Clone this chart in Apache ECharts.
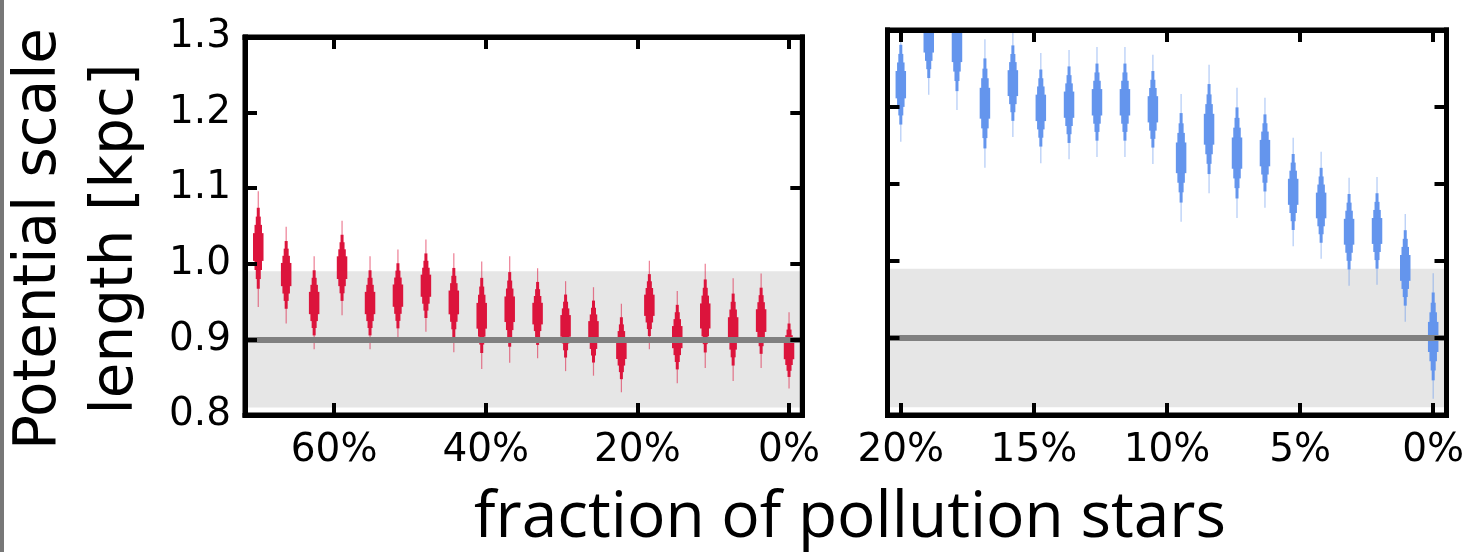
<!DOCTYPE html>
<html>
<head>
<meta charset="utf-8">
<title>Potential scale length vs pollution fraction</title>
<script src="https://cdn.jsdelivr.net/npm/echarts@6/dist/echarts.min.js"></script>
<style>
  html, body { margin: 0; padding: 0; background: #fff; }
  #chart { width: 1477px; height: 552px; }
</style>
</head>
<body>
<div id="chart"></div>
<script>
// fraction of pollution stars (%) for each violin, left panel
const leftFraction = [70, 66.32, 62.63, 58.95, 55.26, 51.58, 47.89, 44.21, 40.53, 36.84,
  33.16, 29.47, 25.79, 22.11, 18.42, 14.74, 11.05, 7.37, 3.68, 0]
const leftMedian = [1.023, 0.986, 0.948, 0.995, 0.948, 0.958, 0.971, 0.949, 0.931, 0.940,
  0.934, 0.918, 0.910, 0.888, 0.945, 0.903, 0.931, 0.913, 0.925, 0.886]
const leftLow = [0.943, 0.921, 0.887, 0.932, 0.887, 0.896, 0.910, 0.883, 0.861, 0.869,
  0.875, 0.858, 0.852, 0.830, 0.887, 0.842, 0.862, 0.845, 0.862, 0.835]
const leftHigh = [1.096, 1.049, 1.010, 1.057, 1.010, 1.019, 1.032, 1.014, 1.003, 1.010,
  0.994, 0.977, 0.969, 0.947, 1.004, 0.964, 1.000, 0.981, 0.987, 0.936]

// right panel (zoom on the low fractions)
const rightFraction = [20, 18.95, 17.89, 16.84, 15.79, 14.74, 13.68, 12.63, 11.58, 10.53,
  9.47, 8.42, 7.37, 6.32, 5.26, 4.21, 3.16, 2.11, 1.05, 0]
const rightMedian = [1.229, 1.288, 1.278, 1.205, 1.231, 1.199, 1.203, 1.206, 1.206, 1.197,
  1.134, 1.171, 1.140, 1.140, 1.090, 1.072, 1.038, 1.039, 0.991, 0.901]
const rightLow = [1.155, 1.216, 1.196, 1.121, 1.161, 1.127, 1.132, 1.135, 1.135, 1.126,
  1.051, 1.088, 1.056, 1.069, 1.019, 1.003, 0.968, 0.969, 0.921, 0.821]
const rightHigh = [1.303, 1.361, 1.360, 1.288, 1.301, 1.270, 1.274, 1.278, 1.278, 1.268,
  1.217, 1.255, 1.225, 1.212, 1.160, 1.142, 1.108, 1.109, 1.061, 0.984]

// reference value and its uncertainty band
const trueScale = 0.9
const bandRange = [0.81, 0.99]

// tick labels
const leftTicks = [0, 20, 40, 60]
const rightTicks = [0, 5, 10, 15, 20]

// stepped violin: [width in px, share of the half spread]
const violinSteps = [[3, 0.70], [5, 0.54], [7.5, 0.39], [10.5, 0.24]]

const labelFont = { fontFamily: 'DejaVu Sans', fontSize: 39, color: '#000' }

const toRows = (xs, lo, mid, hi) => xs.map((x, i) => [x, lo[i], mid[i], hi[i]])

const makeViolin = (color, pale) => (params, api) => {
  const xv = api.value(0)
  const lo = api.value(1)
  const mid = api.value(2)
  const hi = api.value(3)
  const cx = api.coord([xv, mid])[0]
  const top = api.coord([xv, hi])[1]
  const bot = api.coord([xv, lo])[1]
  const children = [{
    type: 'rect',
    shape: { x: cx - 0.6, y: top, width: 1.2, height: bot - top },
    style: { fill: pale }
  }]
  violinSteps.forEach(([w, f]) => {
    const t = api.coord([xv, mid + (hi - mid) * f])[1]
    const b = api.coord([xv, mid - (mid - lo) * f])[1]
    children.push({
      type: 'rect',
      shape: { x: cx - w / 2, y: t, width: w, height: b - t },
      style: { fill: color }
    })
  })
  return { type: 'group', children }
}

// thick black frame round each panel, ticks pointing inwards
const frameLine = () => ({ show: true, onZero: false, lineStyle: { color: '#000', width: 5, cap: 'square' } })
const tickStyle = (values) => ({
  show: true, inside: true, length: 12, customValues: values,
  lineStyle: { color: '#000', width: 4 }
})

const xAxisPair = (gridIndex, min, max, ticks) => [
  {
    type: 'value', gridIndex, position: 'bottom', inverse: true, min, max, z: 10,
    axisLine: frameLine(), axisTick: tickStyle(ticks),
    axisLabel: { ...labelFont, margin: 16, customValues: ticks, formatter: v => v + '%' },
    splitLine: { show: false }
  },
  {
    type: 'value', gridIndex, position: 'top', inverse: true, min, max, z: 10,
    axisLine: frameLine(), axisTick: tickStyle(ticks),
    axisLabel: { show: false }, splitLine: { show: false }
  }
]

const yAxisPair = (gridIndex, withLabels) => [
  {
    type: 'value', gridIndex, position: 'left', min: 0.8, max: 1.3, interval: 0.1, z: 10,
    axisLine: frameLine(),
    axisTick: { show: true, inside: true, length: 12, lineStyle: { color: '#000', width: 4 } },
    axisLabel: { show: withLabels, ...labelFont, margin: 14, formatter: v => v.toFixed(1) },
    splitLine: { show: false },
    name: withLabels ? 'Potential scale\nlength [kpc]' : '',
    nameLocation: 'middle',
    nameRotate: 90,
    nameGap: 90,
    nameTextStyle: {
      fontFamily: 'DejaVu Sans', fontSize: 58, lineHeight: 77, color: '#000',
      padding: [0, 26, 0, 0]
    }
  },
  {
    type: 'value', gridIndex, position: 'right', min: 0.8, max: 1.3, interval: 0.1, z: 10,
    axisLine: frameLine(),
    axisTick: { show: true, inside: true, length: 12, lineStyle: { color: '#000', width: 4 } },
    axisLabel: { show: false }, splitLine: { show: false }
  }
]

const referenceSeries = (xi, yi) => [
  {
    type: 'line', xAxisIndex: xi, yAxisIndex: yi, data: [], z: 1, silent: true,
    markArea: {
      silent: true,
      itemStyle: { color: '#e6e6e6' },
      data: [[{ yAxis: bandRange[0] }, { yAxis: bandRange[1] }]]
    }
  },
  {
    type: 'line', xAxisIndex: xi, yAxisIndex: yi, data: [], z: 2, silent: true,
    markLine: {
      silent: true, symbol: 'none', label: { show: false },
      lineStyle: { color: '#808080', width: 6, type: 'solid' },
      data: [{ yAxis: trueScale }]
    }
  }
]

const panelGrid = (left, right) => ({
  left, right, top: 30, bottom: 552 - 415,
  show: true, borderColor: '#000', borderWidth: 5, backgroundColor: 'transparent', z: 9
})

const chart = echarts.init(document.getElementById('chart'))
chart.setOption({
  animation: false,
  backgroundColor: '#fff',
  grid: [
    panelGrid(243.7, 1477 - 802.3),
    panelGrid(887.5, 1477 - 1446.5)
  ],
  xAxis: [
    ...xAxisPair(0, -1.75, 71.75, leftTicks),
    ...xAxisPair(1, -0.5, 20.5, rightTicks)
  ],
  yAxis: [
    ...yAxisPair(0, true),
    ...yAxisPair(1, false)
  ],
  graphic: [
    { type: 'rect', shape: { x: 0, y: 0, width: 4, height: 552 }, style: { fill: '#777' }, silent: true },
    {
      type: 'text', x: 850, y: 519, silent: true,
      style: {
        text: 'fraction of pollution stars',
        font: '64px "Open Sans"', fill: '#000',
        align: 'center', verticalAlign: 'middle',
        textAlign: 'center', textVerticalAlign: 'middle'
      }
    }
  ],
  series: [
    ...referenceSeries(0, 0),
    ...referenceSeries(2, 2),
    {
      type: 'custom', xAxisIndex: 0, yAxisIndex: 0, z: 3, clip: true,
      renderItem: makeViolin('#dc143c', 'rgba(220,20,60,0.55)'),
      data: toRows(leftFraction, leftLow, leftMedian, leftHigh)
    },
    {
      type: 'custom', xAxisIndex: 2, yAxisIndex: 2, z: 3, clip: true,
      renderItem: makeViolin('#6495ed', 'rgba(100,149,237,0.5)'),
      data: toRows(rightFraction, rightLow, rightMedian, rightHigh)
    }
  ]
})
</script>
</body>
</html>
